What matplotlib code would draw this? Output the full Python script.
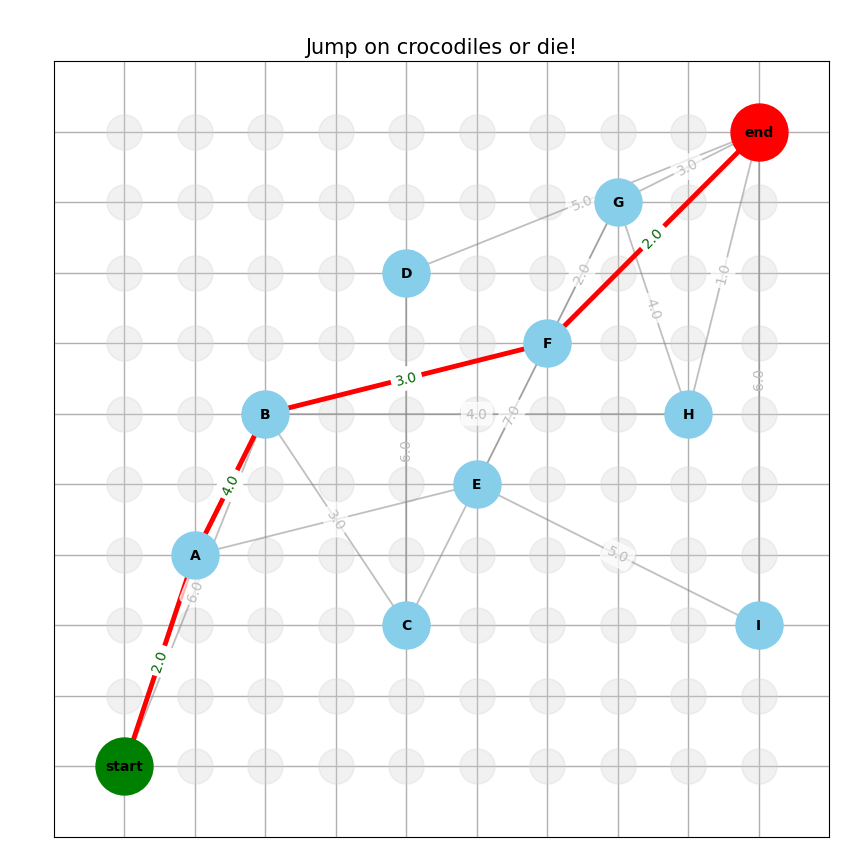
import numpy as np
import matplotlib
matplotlib.use("Agg")
import matplotlib.pyplot as plt

# crocodile positions on the 10x10 pond
node_names = ["start", "A", "B", "C", "D", "E", "F", "G", "H", "I", "end"]
node_x = [0, 1, 2, 4, 4, 5, 6, 7, 8, 9, 9]
node_y = [0, 3, 5, 2, 7, 4, 6, 8, 5, 2, 9]

# jumps (from, to, weight); None = no label shown
edge_from = ["start", "A", "B", "B", "C", "D", "E", "E", "E", "F", "G", "G", "H", "I"]
edge_to = ["B", "E", "C", "H", "D", "end", "C", "F", "I", "G", "H", "end", "end", "end"]
edge_w = [6.0, None, 3.0, 4.0, 6.0, 5.0, None, 7.0, 5.0, 2.0, 4.0, 3.0, 1.0, 6.0]
edge_dark = ["E-F", "F-G"]

# shortest path
path = ["start", "A", "B", "F", "end"]
path_w = [2.0, 4.0, 3.0, 2.0]

grid_n = 10

pos = {n: (x, y) for n, x, y in zip(node_names, node_x, node_y)}

fig = plt.figure(figsize=(8.67, 8.62), dpi=100)
ax = fig.add_axes([54 / 867, 24 / 862, 775 / 867, 776 / 862])
ax.set_xlim(-1, grid_n)
ax.set_ylim(-1, grid_n)
ax.set_xticks(range(grid_n))
ax.set_yticks(range(grid_n))
ax.tick_params(length=0, labelbottom=False, labelleft=False)
ax.grid(True, color="#b0b0b0", lw=1.0, zorder=0)
ax.set_axisbelow(True)
ax.set_title("Jump on crocodiles or die!", fontsize=15)

# background water spots
gx, gy = np.meshgrid(range(grid_n), range(grid_n))
ax.scatter(gx.ravel(), gy.ravel(), s=635, c="lightgray", alpha=0.3,
           edgecolors="lightgray", linewidths=1.2, zorder=1)


def edge_label(u, v, text, color, box_alpha):
    (x1, y1), (x2, y2) = pos[u], pos[v]
    p1 = ax.transData.transform((x1, y1))
    p2 = ax.transData.transform((x2, y2))
    ang = np.degrees(np.arctan2(p2[1] - p1[1], p2[0] - p1[0]))
    if ang > 90:
        ang -= 180
    if ang < -90:
        ang += 180
    box = dict(boxstyle="round", fc="white", ec="white", alpha=box_alpha)
    if x1 == x2:
        # vertical jumps show the line straight through the label
        box = None
    ax.text((x1 + x2) / 2, (y1 + y2) / 2, text, fontsize=10, color=color,
            rotation=ang, rotation_mode="anchor", ha="center", va="center",
            bbox=box, zorder=4)


for u, v, w in zip(edge_from, edge_to, edge_w):
    dark = f"{u}-{v}" in edge_dark
    ax.plot([pos[u][0], pos[v][0]], [pos[u][1], pos[v][1]], color="gray",
            alpha=0.75 if dark else 0.5, lw=1.3, zorder=2)

for u, v, w in zip(edge_from, edge_to, edge_w):
    if w is not None:
        edge_label(u, v, f"{w:.1f}", "#bdbdbd", 0.7)

for u, v, w in zip(path[:-1], path[1:], path_w):
    ax.plot([pos[u][0], pos[v][0]], [pos[u][1], pos[v][1]], color="red",
            lw=3.5, zorder=3, solid_capstyle="butt")
    edge_label(u, v, f"{w:.1f}", "darkgreen", 1.0)

for n in node_names:
    if n == "start":
        col, size = "green", 1680
    elif n == "end":
        col, size = "red", 1680
    else:
        col, size = "skyblue", 1145
    ax.scatter(*pos[n], s=size, c=col, zorder=5)
    ax.text(*pos[n], n, fontsize=10, fontweight="bold", ha="center",
            va="center", zorder=6)

fig.savefig("out.png", dpi=100)
